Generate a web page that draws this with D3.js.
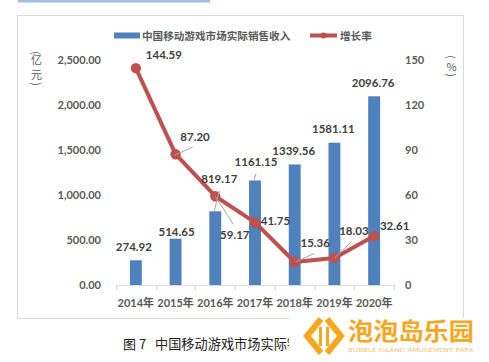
<!DOCTYPE html>
<html><head><meta charset="utf-8">
<script src="https://cdn.jsdelivr.net/npm/d3@7/dist/d3.min.js"></script>
<style>
html,body{margin:0;padding:0;background:#fff;}
svg{display:block;}
</style>
</head><body>
<script>
// ---- data ----
const years = ["2014年","2015年","2016年","2017年","2018年","2019年","2020年"];
const revenue = [274.92, 514.65, 819.17, 1161.15, 1339.56, 1581.11, 2096.76];
const growth = [144.59, 87.20, 59.17, 41.75, 15.36, 18.03, 32.61];
const leftTicks = [0, 500, 1000, 1500, 2000, 2500];
const rightTicks = [0, 30, 60, 90, 120, 150];
const seriesNames = ["中国移动游戏市场实际销售收入", "增长率"];
const caption = ["图 7", "中国移动游戏市场实际销"];

// ---- layout (label offsets relative to marks) ----
const barLabelOff = [[-2,-14],[1,-7],[4,-33],[1,-19],[-1,-14],[-1,-14],[-1,-14]];
const barLeader = [null,null,[[4,-21],[-1,0]],[[1,-7],[-1,0]],null,null,null];
const lineLabelOff = [[28,-14],[19.5,-18],[19.5,38],[20.5,-1.5],[20.5,-19.5],[19.5,-27],[20.5,-10.5]];
const lineLeader = [null,[[-1,1],[17,-7]],[[0,0],[18,28]],null,[[1,0],[19.5,-8.5]],[[0,0],[17.5,-16.5]],null];

const W = 489, H = 362;
const svg = d3.select("body").append("svg").attr("width", W).attr("height", H);

const numFont = "Lato, 'Noto Sans CJK SC', sans-serif";
const cjkFont = "'Noto Sans CJK SC', sans-serif";
const blue = "#4F81BD", red = "#C0504D";

// top strip (cropped heading)
svg.append("rect").attr("x",18).attr("y",0).attr("width",192).attr("height",2.5).attr("fill","#9FBFE3");

// frame
svg.append("rect").attr("x",17.5).attr("y",15.5).attr("width",446).attr("height",303)
  .attr("fill","none").attr("stroke","#D9D9D9").attr("stroke-width",1);

// scales
const x = d3.scaleBand().domain(years).range([116, 394]).paddingInner(0.7).paddingOuter(0.35);
const yL = d3.scaleLinear().domain([0, 2500]).range([285, 60]);
const yR = d3.scaleLinear().domain([0, 150]).range([285, 60]);
const cx = d => x(d) + x.bandwidth()/2;

// left axis
const gL = svg.append("g").attr("transform","translate(105,0)")
  .call(d3.axisLeft(yL).tickValues(leftTicks).tickSize(0).tickPadding(4).tickFormat(d3.format(",.2f")));
gL.select(".domain").remove();
gL.selectAll("text").attr("font-family", numFont).attr("font-weight","bold").attr("font-size","11px").attr("fill","#595959");

// right axis
const gR = svg.append("g").attr("transform","translate(401,0)")
  .call(d3.axisRight(yR).tickValues(rightTicks).tickSize(0).tickPadding(4).tickFormat(d3.format("d")));
gR.select(".domain").remove();
gR.selectAll("text").attr("font-family", numFont).attr("font-weight","bold").attr("font-size","11px").attr("fill","#595959");

// bottom axis
const gB = svg.append("g").attr("transform","translate(0,285)")
  .call(d3.axisBottom(x).tickSize(0).tickPadding(14));
gB.select(".domain").attr("stroke","#D9D9D9").attr("d","M116,0.5H394");
gB.selectAll("text").attr("font-family", numFont).attr("font-weight","bold").attr("font-size","11px").attr("fill","#595959");
const bounds = years.map(d => x(d) - (x.step()-x.bandwidth())/2).concat([394]);
gB.selectAll("line.sep").data(bounds).join("line").attr("class","sep")
  .attr("x1", d=>Math.round(d)+0.5).attr("x2", d=>Math.round(d)+0.5).attr("y1",0).attr("y2",5)
  .attr("stroke","#D9D9D9");

// axis unit labels
function vert(xc, items){
  items.forEach(([t, yc, rot]) => {
    svg.append("text").text(t).attr("font-family", cjkFont).attr("font-size","11px").attr("fill","#595959")
      .attr("text-anchor","middle").attr("dominant-baseline","central")
      .attr("transform", `translate(${xc},${yc})` + (rot ? " rotate(90)" : ""));
  });
}
vert(36.5, [["(",53,true],["亿",59,false],["元",74,false],[")",84,true]]);
vert(451.5, [["(",57,true],["%",66,false],[")",75,true]]);

// bars
svg.append("g").selectAll("rect").data(revenue).join("rect")
  .attr("x",(d,i)=>x(years[i])).attr("width",x.bandwidth())
  .attr("y",d=>yL(d)).attr("height",d=>yL(0)-yL(d)).attr("fill",blue);

// line
const line = d3.line().x((d,i)=>cx(years[i])).y(d=>yR(d));
svg.append("path").datum(growth).attr("d",line).attr("fill","none").attr("stroke",red)
  .attr("stroke-width",4).attr("stroke-linejoin","round");
svg.append("g").selectAll("circle").data(growth).join("circle")
  .attr("cx",(d,i)=>cx(years[i])).attr("cy",d=>yR(d)).attr("r",5.2).attr("fill",red);

// leaders
const lg = svg.append("g").attr("stroke","#A6A6A6").attr("stroke-width",1);
barLeader.forEach((l,i)=>{ if(!l) return;
  const bx = cx(years[i]), by = yL(revenue[i]);
  lg.append("line").attr("x1",bx+l[0][0]).attr("y1",by+l[0][1]).attr("x2",bx+l[1][0]).attr("y2",by+l[1][1]);
});
lineLeader.forEach((l,i)=>{ if(!l) return;
  const px = cx(years[i]), py = yR(growth[i]);
  lg.append("line").attr("x1",px+l[0][0]).attr("y1",py+l[0][1]).attr("x2",px+l[1][0]).attr("y2",py+l[1][1]);
});

// labels
const lbl = svg.append("g").attr("font-family", numFont).attr("font-weight","bold").attr("font-size","11.5px")
  .attr("fill","#404040").attr("text-anchor","middle").attr("dominant-baseline","central");
revenue.forEach((v,i)=>{
  lbl.append("text").text(d3.format(".2f")(v))
    .attr("x", cx(years[i])+barLabelOff[i][0]).attr("y", yL(v)+barLabelOff[i][1]);
});
growth.forEach((v,i)=>{
  lbl.append("text").text(d3.format(".2f")(v))
    .attr("x", cx(years[i])+lineLabelOff[i][0]).attr("y", yR(v)+lineLabelOff[i][1]);
});

// legend
const leg = svg.append("g");
leg.append("rect").attr("x",114).attr("y",32.5).attr("width",26).attr("height",6).attr("fill",blue);
leg.append("text").text(seriesNames[0]).attr("x",142).attr("y",35.5).attr("dominant-baseline","central")
  .attr("font-family",cjkFont).attr("font-weight","bold").attr("font-size","10.6px").attr("fill","#595959");
leg.append("line").attr("x1",310).attr("x2",337).attr("y1",35.5).attr("y2",35.5).attr("stroke",red).attr("stroke-width",4);
leg.append("circle").attr("cx",323.5).attr("cy",35.5).attr("r",3).attr("fill",red);
leg.append("text").text(seriesNames[1]).attr("x",340).attr("y",35.5).attr("dominant-baseline","central")
  .attr("font-family",cjkFont).attr("font-weight","bold").attr("font-size","10.6px").attr("fill","#595959");

// caption
svg.append("text").text(caption[0]).attr("x",123).attr("y",343).attr("dominant-baseline","central")
  .attr("font-family",cjkFont).attr("font-size","13px").attr("fill","#222");
svg.append("text").text(caption[1]).attr("x",155).attr("y",343).attr("dominant-baseline","central")
  .attr("font-family",cjkFont).attr("font-size","13.2px").attr("fill","#222");

// watermark
const wm = svg.append("g");
wm.append("rect").attr("x",289).attr("y",318).attr("width",200).attr("height",44).attr("fill","#fff");
const orange = "#F8A61C";
wm.append("path").attr("d","M321,319 L307,336 L321,353").attr("fill","none").attr("stroke",orange).attr("stroke-width",6).attr("stroke-linejoin","miter");
wm.append("path").attr("d","M327,319 L341,336 L327,353").attr("fill","none").attr("stroke",orange).attr("stroke-width",6).attr("stroke-linejoin","miter");
wm.append("rect").attr("x",319).attr("y",327).attr("width",3).attr("height",19).attr("fill",orange);
wm.append("rect").attr("x",326).attr("y",327).attr("width",3).attr("height",19).attr("fill",orange);
wm.append("text").text("泡泡岛乐园").attr("x",348).attr("y",329.5).attr("dominant-baseline","central")
  .attr("font-family",cjkFont).attr("font-weight","bold").attr("font-size","23.5px").attr("fill",orange)
  .attr("textLength",126).attr("lengthAdjust","spacingAndGlyphs");
wm.append("text").text("BUBBLE ISLAND AMUSEMENT PARK").attr("x",348).attr("y",350).attr("dominant-baseline","central")
  .attr("font-family","'DejaVu Sans', sans-serif").attr("font-size","5.5px").attr("fill","#F9C36A")
  .attr("textLength",126).attr("lengthAdjust","spacingAndGlyphs");
</script>
</body></html>
